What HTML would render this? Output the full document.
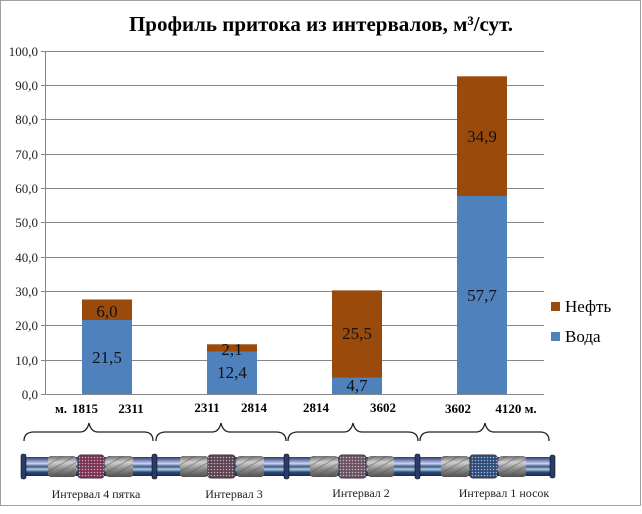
<!DOCTYPE html>
<html><head><meta charset="utf-8"><style>
body{margin:0;background:#fff}
svg{display:block;font-family:"Liberation Serif",serif}
</style></head><body>
<svg width="642" height="514" viewBox="0 0 642 514">
<defs>
<linearGradient id="pipe" x1="0" y1="0" x2="0" y2="1">
<stop offset="0" stop-color="#2a3a6a"/><stop offset="0.2" stop-color="#8090c0"/><stop offset="0.35" stop-color="#d8d0f0"/><stop offset="0.5" stop-color="#3a5a8a"/><stop offset="0.65" stop-color="#a8d0e0"/><stop offset="0.8" stop-color="#304878"/><stop offset="1" stop-color="#1a2850"/>
</linearGradient>
<linearGradient id="scr" x1="0" y1="0" x2="0" y2="1">
<stop offset="0" stop-color="#707070"/><stop offset="0.3" stop-color="#d0d0d0"/><stop offset="0.6" stop-color="#909090"/><stop offset="1" stop-color="#505050"/>
</linearGradient>
<pattern id="hatch" width="6" height="6" patternUnits="userSpaceOnUse" patternTransform="rotate(60)">
<rect width="6" height="6" fill="none"/><line x1="0" y1="0" x2="0" y2="6" stroke="#555" stroke-width="2"/>
</pattern>
<pattern id="mesh" width="3" height="3" patternUnits="userSpaceOnUse">
<circle cx="1.5" cy="1.5" r="0.8" fill="#fff" opacity="0.6"/>
</pattern>
</defs>
<rect x="0.5" y="0.5" width="640" height="505" fill="#fff" stroke="#a0a0a0"/>
<text x="321" y="31" text-anchor="middle" font-size="21" font-weight="bold">Профиль притока из интервалов, м³/сут.</text>
<g stroke="#868686" stroke-width="1">
<line x1="41" y1="51.5" x2="544" y2="51.5"/><line x1="41" y1="85.5" x2="544" y2="85.5"/><line x1="41" y1="119.5" x2="544" y2="119.5"/><line x1="41" y1="154.5" x2="544" y2="154.5"/><line x1="41" y1="188.5" x2="544" y2="188.5"/><line x1="41" y1="222.5" x2="544" y2="222.5"/><line x1="41" y1="257.5" x2="544" y2="257.5"/><line x1="41" y1="291.5" x2="544" y2="291.5"/><line x1="41" y1="325.5" x2="544" y2="325.5"/><line x1="41" y1="360.5" x2="544" y2="360.5"/><line x1="41" y1="394.5" x2="544" y2="394.5"/>
<line x1="45.5" y1="51" x2="45.5" y2="394"/>
</g>
<g font-size="13" text-anchor="end" fill="#222">
<text x="38" y="56">100,0</text><text x="38" y="90">90,0</text><text x="38" y="124">80,0</text><text x="38" y="159">70,0</text><text x="38" y="193">60,0</text><text x="38" y="227">50,0</text><text x="38" y="262">40,0</text><text x="38" y="296">30,0</text><text x="38" y="330">20,0</text><text x="38" y="365">10,0</text><text x="38" y="399">0,0</text>
</g>
<g>
<rect x="82" y="320" width="50" height="74" fill="#4f81bd"/><rect x="82" y="299.5" width="50" height="20.5" fill="#9a4a0a"/>
<rect x="207" y="351.5" width="50" height="42.5" fill="#4f81bd"/><rect x="207" y="344.3" width="50" height="7.2" fill="#9a4a0a"/>
<rect x="332" y="377.9" width="50" height="16.1" fill="#4f81bd"/><rect x="332" y="290.4" width="50" height="87.5" fill="#9a4a0a"/>
<rect x="457" y="196" width="50" height="198" fill="#4f81bd"/><rect x="457" y="76.3" width="50" height="119.7" fill="#9a4a0a"/>
</g>
<g font-size="17" text-anchor="middle" fill="#111">
<text x="107" y="317">6,0</text><text x="107" y="363">21,5</text>
<text x="232" y="355">2,1</text><text x="232" y="378">12,4</text>
<text x="357" y="391">4,7</text><text x="357" y="339">25,5</text>
<text x="482" y="142">34,9</text><text x="482" y="301">57,7</text>
</g>
<rect x="551" y="302" width="9" height="9" fill="#9a4a0a"/><text x="565" y="312" font-size="17">Нефть</text>
<rect x="551" y="332" width="9" height="9" fill="#4f81bd"/><text x="565" y="342" font-size="17">Вода</text>
<g font-size="13" font-weight="bold" text-anchor="middle">
<text x="61" y="413">м.</text><text x="85" y="413">1815</text><text x="131" y="413">2311</text>
<text x="207" y="412">2311</text><text x="254" y="412">2814</text>
<text x="316" y="412">2814</text><text x="383" y="412">3602</text>
<text x="458" y="413">3602</text><text x="516" y="413">4120 м.</text>
</g>
<g fill="none" stroke="#222" stroke-width="1.3">
<path d="M24,441 Q24,432 34,432 L80,432 Q87,432 89,423 Q91,432 98,432 L144,432 Q153,432 153,441"/>
<path d="M156,441 Q156,432 166,432 L212,432 Q219,432 221,423 Q223,432 230,432 L276,432 Q286,432 286,441"/>
<path d="M288,441 Q288,432 298,432 L344,432 Q351,432 353,423 Q355,432 362,432 L408,432 Q418,432 418,441"/>
<path d="M420,441 Q420,432 430,432 L476,432 Q483,432 485,423 Q487,432 494,432 L540,432 Q549,432 549,441"/>
</g>
<rect x="22" y="457" width="532" height="19" rx="3" fill="url(#pipe)"/>
<g fill="#2a3a6a" stroke="#111" stroke-width="0.6">
<rect x="21" y="454" width="5" height="25" rx="2"/><rect x="152" y="454" width="5" height="25" rx="2"/><rect x="284" y="454" width="5" height="25" rx="2"/><rect x="415" y="454" width="5" height="25" rx="2"/><rect x="550" y="455" width="5" height="23" rx="2"/>
</g>
<g>
<rect x="48" y="456" width="28" height="21" rx="3" fill="url(#scr)"/><rect x="48" y="456" width="28" height="21" rx="3" fill="url(#hatch)" opacity="0.5"/>
<rect x="78" y="455" width="26" height="23" rx="3" fill="#7a3050" stroke="#333"/><rect x="78" y="455" width="26" height="23" fill="url(#mesh)"/>
<rect x="106" y="456" width="27" height="21" rx="3" fill="url(#scr)"/><rect x="106" y="456" width="27" height="21" rx="3" fill="url(#hatch)" opacity="0.5"/>
<rect x="180" y="456" width="28" height="21" rx="3" fill="url(#scr)"/><rect x="180" y="456" width="28" height="21" rx="3" fill="url(#hatch)" opacity="0.5"/>
<rect x="208" y="455" width="27" height="23" rx="3" fill="#5a4050" stroke="#333"/><rect x="208" y="455" width="27" height="23" fill="url(#mesh)"/>
<rect x="237" y="456" width="27" height="21" rx="3" fill="url(#scr)"/><rect x="237" y="456" width="27" height="21" rx="3" fill="url(#hatch)" opacity="0.5"/>
<rect x="310" y="456" width="28" height="21" rx="3" fill="url(#scr)"/><rect x="310" y="456" width="28" height="21" rx="3" fill="url(#hatch)" opacity="0.5"/>
<rect x="339" y="455" width="27" height="23" rx="3" fill="#6a5060" stroke="#333"/><rect x="339" y="455" width="27" height="23" fill="url(#mesh)"/>
<rect x="368" y="456" width="26" height="21" rx="3" fill="url(#scr)"/><rect x="368" y="456" width="26" height="21" rx="3" fill="url(#hatch)" opacity="0.5"/>
<rect x="441" y="456" width="28" height="21" rx="3" fill="url(#scr)"/><rect x="441" y="456" width="28" height="21" rx="3" fill="url(#hatch)" opacity="0.5"/>
<rect x="470" y="455" width="27" height="23" rx="3" fill="#2a4a7a" stroke="#333"/><rect x="470" y="455" width="27" height="23" fill="url(#mesh)"/>
<rect x="499" y="456" width="27" height="21" rx="3" fill="url(#scr)"/><rect x="499" y="456" width="27" height="21" rx="3" fill="url(#hatch)" opacity="0.5"/>
</g>
<g font-size="12" text-anchor="middle" fill="#222">
<text x="96" y="498">Интервал 4 пятка</text><text x="234" y="498">Интервал 3</text><text x="361" y="497">Интервал 2</text><text x="504" y="497">Интервал 1 носок</text>
</g>
</svg>
</body></html>
